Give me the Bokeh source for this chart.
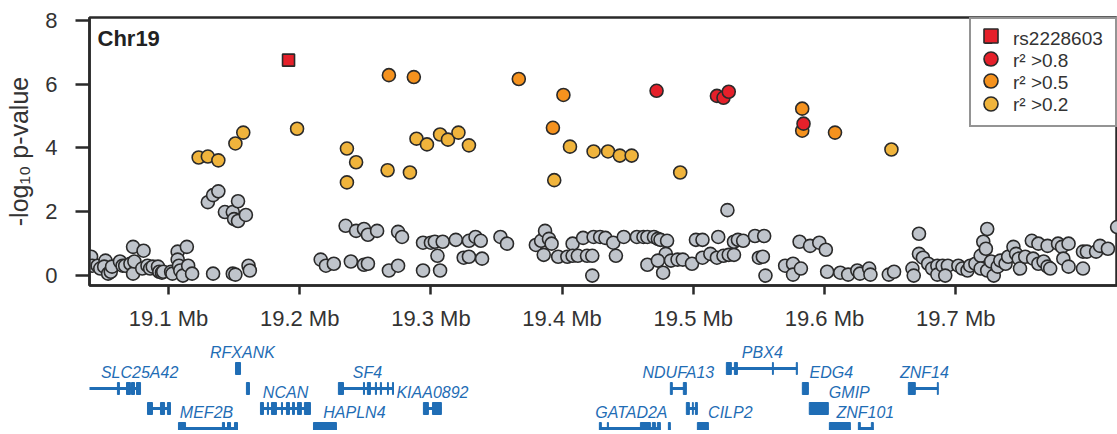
from bokeh.plotting import figure
from bokeh.models import (Range1d, FixedTicker, PrintfTickFormatter, Legend, LegendItem, Label)
from bokeh.layouts import column
from bokeh.core.properties import value
from bokeh.embed import file_html
from bokeh.resources import INLINE

# ---------------- data ----------------
lead_snp = ["rs2228603"]
lead_pos = [19.1915]
lead_logp = [6.75]

red_pos = [19.472, 19.518, 19.523, 19.527, 19.584]
red_logp = [5.79, 5.63, 5.57, 5.76, 4.76]

orange_pos = [19.268, 19.287, 19.367, 19.401, 19.393, 19.583, 19.583, 19.608]
orange_logp = [6.28, 6.22, 6.16, 5.66, 4.63, 5.23, 4.54, 4.48]

yellow_pos = [19.123, 19.130, 19.138, 19.151, 19.157, 19.198, 19.236, 19.243, 19.236,
              19.267, 19.284, 19.289, 19.297, 19.307, 19.313, 19.321, 19.329, 19.394,
              19.406, 19.424, 19.435, 19.444, 19.453, 19.490, 19.651]
yellow_logp = [3.70, 3.73, 3.61, 4.14, 4.48, 4.60, 3.98, 3.55, 2.92,
               3.30, 3.23, 4.29, 4.11, 4.42, 4.26, 4.48, 4.08, 2.99,
               4.04, 3.89, 3.89, 3.76, 3.76, 3.23, 3.95]

gray_pos = [
    19.041, 19.042, 19.046, 19.048, 19.052, 19.051, 19.054, 19.056, 19.057, 19.063,
    19.065, 19.067, 19.071, 19.073, 19.074, 19.073, 19.081, 19.080, 19.084, 19.086,
    19.088, 19.092, 19.093, 19.095, 19.096, 19.102, 19.103, 19.107, 19.107, 19.108,
    19.109, 19.111, 19.114, 19.115, 19.118, 19.134, 19.149, 19.151, 19.161, 19.162,
    19.130, 19.134, 19.138, 19.143, 19.149, 19.150, 19.153, 19.153, 19.159,
    19.216, 19.220, 19.226, 19.235, 19.239, 19.243, 19.249, 19.252, 19.249, 19.252,
    19.259, 19.268, 19.275, 19.275, 19.278, 19.294, 19.307, 19.294, 19.300, 19.303,
    19.309, 19.305, 19.319, 19.325, 19.329, 19.329, 19.334, 19.338, 19.339, 19.353,
    19.358, 19.380, 19.384, 19.387, 19.390, 19.392, 19.386, 19.397, 19.404, 19.408,
    19.408, 19.412, 19.416, 19.419, 19.423, 19.423, 19.424, 19.429, 19.433, 19.439,
    19.441, 19.447, 19.457, 19.462, 19.465, 19.470, 19.473, 19.475, 19.480, 19.479,
    19.465, 19.473, 19.477, 19.483, 19.488, 19.492, 19.499, 19.502, 19.507, 19.507,
    19.513, 19.518, 19.519, 19.523, 19.527, 19.531, 19.531, 19.534, 19.538, 19.526,
    19.547, 19.554, 19.550, 19.553, 19.555, 19.570,
    19.576, 19.576, 19.582, 19.581, 19.589, 19.596, 19.601, 19.602, 19.612, 19.618,
    19.625, 19.627, 19.634, 19.635, 19.649, 19.653, 19.672, 19.672, 19.675, 19.667,
    19.668, 19.679, 19.682, 19.686, 19.686, 19.690, 19.694, 19.692, 19.702, 19.705,
    19.709, 19.711, 19.715, 19.719, 19.719, 19.721, 19.723, 19.724, 19.724, 19.727,
    19.729, 19.732, 19.734, 19.738, 19.740, 19.744, 19.746, 19.748, 19.749, 19.753,
    19.758, 19.759, 19.763, 19.763, 19.767, 19.770, 19.770, 19.772, 19.778, 19.781,
    19.782, 19.786, 19.786, 19.797, 19.797, 19.800, 19.807, 19.810, 19.816, 19.823]
gray_logp = [
    0.59, 0.31, 0.31, 0.22, 0.47, 0.28, 0.06, 0.12, 0.28, 0.44,
    0.31, 0.31, 0.37, 0.06, 0.44, 0.90, 0.78, 0.22, 0.31, 0.22,
    0.28, 0.28, 0.12, 0.09, 0.12, 0.12, 0.06, 0.75, 0.50, 0.31,
    0.16, 0.00, 0.90, 0.31, 0.06, 0.06, 0.06, 0.03, 0.31, 0.16,
    2.30, 2.52, 2.64, 1.99, 1.99, 1.77, 2.33, 1.71, 1.90,
    0.50, 0.31, 0.37, 1.56, 0.44, 1.40, 1.46, 1.28, 0.34, 0.37,
    1.40, 0.16, 0.31, 1.37, 1.21, 0.16, 0.16, 1.03, 1.03, 1.06,
    1.06, 0.62, 1.12, 0.56, 0.59, 1.09, 1.21, 1.09, 0.53, 1.21,
    1.00, 0.96, 1.09, 1.40, 1.15, 1.00, 0.65, 0.59, 0.59, 1.00,
    0.62, 0.62, 1.18, 0.62, 0.62, 0.00, 1.21, 1.21, 1.18, 1.03,
    0.62, 1.21, 1.21, 1.21, 1.21, 1.21, 1.15, 1.12, 1.09, 0.68,
    0.34, 0.47, 0.09, 0.47, 0.50, 0.50, 0.37, 1.12, 1.12, 0.56,
    0.68, 0.56, 1.21, 0.62, 0.65, 0.65, 1.06, 1.12, 1.09, 2.05,
    1.24, 1.24, 0.56, 0.59, 0.00, 0.31,
    0.37, 0.03, 0.22, 1.06, 0.93, 1.03, 0.81, 0.12, 0.09, 0.03,
    0.16, 0.06, 0.22, 0.03, 0.03, 0.12, 1.31, 0.68, 0.56, 0.22,
    0.00, 0.37, 0.22, 0.31, 0.03, 0.31, 0.31, 0.00, 0.31, 0.22,
    0.16, 0.31, 0.37, 0.62, 0.22, 1.06, 0.84, 1.46, 0.16, 0.44,
    0.00, 0.28, 0.47, 0.37, 0.59, 0.90, 0.68, 0.53, 0.22, 0.59,
    1.09, 0.53, 1.00, 0.37, 0.44, 0.93, 0.28, 0.22, 1.00, 0.90,
    0.53, 1.00, 0.28, 0.75, 0.22, 0.75, 0.75, 0.93, 0.84, 1.52]

x_ticks = [19.1, 19.2, 19.3, 19.4, 19.5, 19.6, 19.7]
y_ticks = [0, 2, 4, 6, 8]
legend_labels = ["rs2228603", "r\u00b2 >0.8", "r\u00b2 >0.5", "r\u00b2 >0.2"]

# genes (Mb), track row (0 = top), label anchor (Mb)
gene_names = ["SLC25A42", "", "RFXANK", "", "MEF2B", "NCAN", "SF4", "KIAA0892", "HAPLN4",
              "GATAD2A", "", "NDUFA13", "", "CILP2", "PBX4", "EDG4", "GMIP", "ZNF101", "", "ZNF14"]
gene_start = [19.0360, 19.0840, 19.1511, 19.1594, 19.1076, 19.1701, 19.2295, 19.2943, 19.2105,
              19.4284, 19.4810, 19.4825, 19.4947, 19.5031, 19.5252, 19.5831, 19.5884, 19.6037, 19.6258, 19.6639]
gene_end = [19.0787, 19.1015, 19.1549, 19.1617, 19.1526, 19.2082, 19.2715, 19.3080, 19.2280,
            19.4749, 19.4825, 19.4947, 19.5031, 19.5115, 19.5793, 19.5877, 19.6029, 19.6197, 19.6372, 19.6867]
gene_row = [1, 2, 0, 1, 3, 2, 1, 2, 3,
            3, 3, 1, 2, 3, 0, 1, 2, 3, 3, 1]
gene_label_pos = [19.0780, None, 19.1564, None, 19.1290, 19.1892, 19.2516, 19.3012, 19.2417,
                  19.4528, None, 19.4886, None, 19.5282, 19.5526, 19.6052, 19.6189, 19.6311, None, 19.6761]
gene_exons = [
    [(19.0611, 19.0626), (19.0680, 19.0710), (19.0718, 19.0741), (19.0756, 19.0787)],
    [(19.0840, 19.0878), (19.0939, 19.0970), (19.0992, 19.1015)],
    [(19.1511, 19.1549)],
    [(19.1594, 19.1617)],
    [(19.1076, 19.1130), (19.1411, 19.1427), (19.1450, 19.1473), (19.1503, 19.1526)],
    [(19.1701, 19.1724), (19.1754, 19.1762), (19.1785, 19.1823), (19.1861, 19.1869),
     (19.1899, 19.1922), (19.1945, 19.1960), (19.1983, 19.2013), (19.2036, 19.2082)],
    [(19.2295, 19.2334), (19.2486, 19.2494), (19.2516, 19.2539), (19.2577, 19.2585),
     (19.2615, 19.2623), (19.2669, 19.2676), (19.2707, 19.2715)],
    [(19.2943, 19.2981), (19.3012, 19.3080)],
    [(19.2105, 19.2280)],
    [(19.4284, 19.4299), (19.4345, 19.4353), (19.4597, 19.4673), (19.4688, 19.4711), (19.4726, 19.4749)],
    [(19.4810, 19.4825)],
    [(19.4825, 19.4840), (19.4924, 19.4947)],
    [(19.4947, 19.4970), (19.4993, 19.5000), (19.5016, 19.5031)],
    [(19.5031, 19.5115)],
    [(19.5252, 19.5290), (19.5313, 19.5336), (19.5603, 19.5610), (19.5785, 19.5793)],
    [(19.5831, 19.5877)],
    [(19.5884, 19.6029)],
    [(19.6037, 19.6197)],
    [(19.6258, 19.6273), (19.6357, 19.6372)],
    [(19.6639, 19.6692), (19.6860, 19.6867)],
]

# ---------------- styles ----------------
FONT = "Liberation Sans"
TXT = "#333333"
EDGE = "#2a2a2a"
GRAY = "#bfc4cb"
YELLOW = "#f0b43c"
ORANGE = "#f5921e"
RED = "#e5202a"
GENE = "#1f6db5"

W = 1117
X0, X1 = 19.0398, 19.8233
FRAME_LEFT, FRAME_TOP, FRAME_H = 89, 17, 270

p = figure(width=W, height=333, x_range=Range1d(X0, X1), y_range=Range1d(-0.311, 8.087),
           output_backend="svg", toolbar_location=None,
           min_border_left=FRAME_LEFT, min_border_right=0, min_border_top=FRAME_TOP,
           min_border_bottom=333 - FRAME_TOP - FRAME_H)
p.xgrid.visible = False
p.ygrid.visible = False
p.outline_line_color = EDGE
p.outline_line_width = 2.5
p.background_fill_color = "white"
p.border_fill_color = "white"

for ax in (p.xaxis[0], p.yaxis[0]):
    ax.axis_line_color = EDGE
    ax.axis_line_width = 2.5
    ax.major_tick_line_color = EDGE
    ax.major_tick_line_width = 2.5
    ax.major_tick_in = 0
    ax.minor_tick_line_color = None
    ax.major_label_text_font = FONT
    ax.major_label_text_font_size = "22px"
    ax.major_label_text_color = TXT

p.yaxis.ticker = FixedTicker(ticks=y_ticks)
p.yaxis.major_tick_out = 14
p.yaxis.major_label_standoff = 18
p.yaxis.axis_label = "-log\u2081\u2080 p-value"
p.yaxis.axis_label_text_font = FONT
p.yaxis.axis_label_text_font_size = "25px"
p.yaxis.axis_label_text_font_style = "normal"
p.yaxis.axis_label_text_color = TXT
p.yaxis.axis_label_standoff = 9

p.xaxis.ticker = FixedTicker(ticks=x_ticks)
p.xaxis.formatter = PrintfTickFormatter(format="%.1f Mb")
p.xaxis.major_tick_out = 9
p.xaxis.major_label_standoff = 11

common = dict(line_color=EDGE, line_width=1.6)
r_gray = p.scatter(gray_pos, gray_logp, size=13, fill_color=GRAY, marker="circle", **common)
r_yel = p.scatter(yellow_pos, yellow_logp, size=13, fill_color=YELLOW, marker="circle", **common)
r_ora = p.scatter(orange_pos, orange_logp, size=13, fill_color=ORANGE, marker="circle", **common)
r_red = p.scatter(red_pos, red_logp, size=13, fill_color=RED, marker="circle", **common)
r_sq = p.scatter(lead_pos, lead_logp, size=12, fill_color=RED, marker="square", **common)

legend_renderers = [r_sq, r_red, r_ora, r_yel]

# boxed legend with labels (its own glyphs are small)
PAD, GW, ITEM_H = 9, 16, 22.7
legend = Legend(items=[LegendItem(label=lab, renderers=[r]) for lab, r in zip(legend_labels, legend_renderers)],
                location="top_right", margin=0, padding=PAD, spacing=0,
                glyph_width=GW, glyph_height=21, label_height=21, label_width=93, label_standoff=17,
                label_text_font=FONT, label_text_font_size="19px", label_text_color=TXT,
                border_line_color=EDGE, border_line_width=2.5, background_fill_alpha=1)
p.add_layout(legend)

# full-size legend keys drawn over the small ones
leg_w = PAD + GW + 17 + 93 + PAD
key_cx = (W - FRAME_LEFT) - leg_w + PAD + GW / 2          # frame-relative x of key centre
for k, r in enumerate(legend_renderers):
    key_cy = PAD + ITEM_H / 2 + k * ITEM_H                 # frame-relative y (from top)
    key = Legend(items=[LegendItem(label=" ", renderers=[r])],
                 location=(key_cx - 17.5, FRAME_H - key_cy - 17.5),
                 margin=0, padding=0, spacing=0, glyph_width=35, glyph_height=35,
                 label_height=35, label_width=1, label_standoff=0,
                 label_text_font_size="1px", border_line_color=None, background_fill_alpha=0)
    p.add_layout(key)

p.add_layout(Label(x=X0, y=7.43, x_offset=8, text="Chr19", text_font=FONT,
                   text_font_style="bold", text_font_size="22px", text_baseline="middle",
                   text_color="#222222"))

# ---------------- gene track (same x scale, frame aligned with the plot above) ----------------
g = figure(width=W, height=97, x_range=p.x_range, y_range=Range1d(3.1, -1.75),
           output_backend="svg", toolbar_location=None, x_axis_location=None,
           y_axis_location=None, min_border_left=FRAME_LEFT, min_border_right=0,
           min_border_top=0, min_border_bottom=0, outline_line_color=None)
g.grid.visible = False

g.segment(x0=gene_start, y0=gene_row, x1=gene_end, y1=gene_row, line_width=3, line_color=GENE)

ex_l, ex_r, ex_t, ex_b = [], [], [], []
for exons, row in zip(gene_exons, gene_row):
    for s, e in exons:
        ex_l.append(s); ex_r.append(e); ex_t.append(row - 0.3); ex_b.append(row + 0.3)
g.quad(left=ex_l, right=ex_r, top=ex_t, bottom=ex_b, fill_color=GENE, line_color=GENE, line_width=1)

lab = [(n, x, r) for n, x, r in zip(gene_names, gene_label_pos, gene_row) if n]
g.text(x=[l[1] for l in lab], y=[l[2] - 0.78 for l in lab], text=[l[0] for l in lab],
       text_font=value(FONT), text_font_style="italic", text_font_size="16px",
       text_color=GENE, text_align="center", text_baseline="middle")

layout = column(p, g, spacing=0)
open("out.html", "w").write(file_html(layout, INLINE))
